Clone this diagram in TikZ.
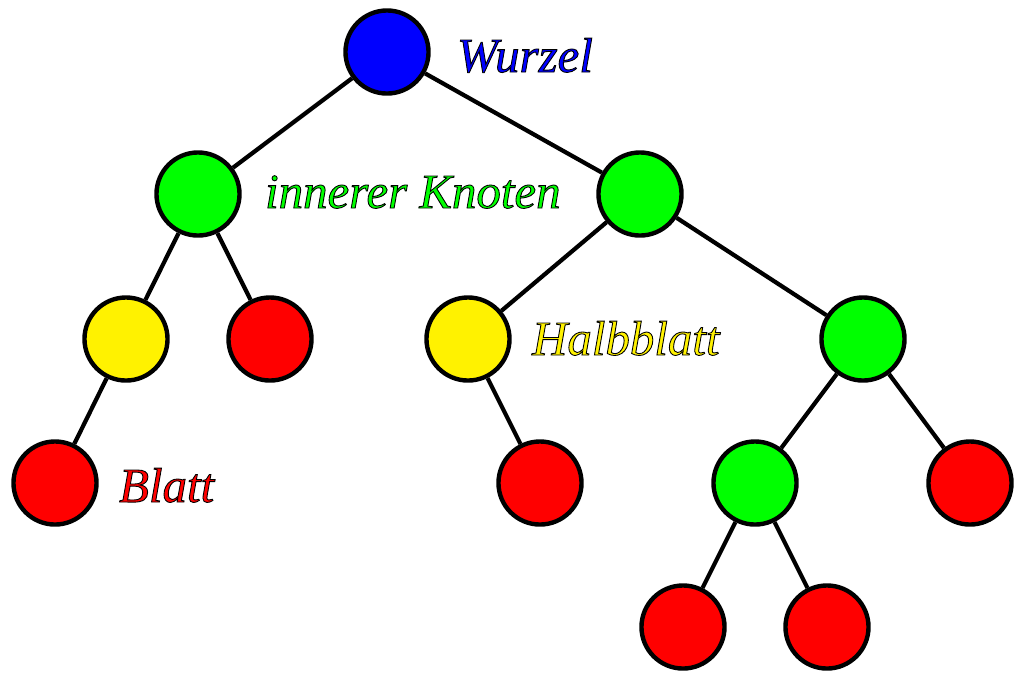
\documentclass[tikz,border=0pt]{standalone}
\usepackage{fontspec}
\setmainfont{Liberation Serif}
\usetikzlibrary{positioning}
% Schrift mit schwarzem Rand
\newcommand{\umriss}[1]{\special{pdf:literal direct 0 G 2 Tr 0.25 w}#1\special{pdf:literal direct 0 Tr}}
\tikzset{
  knoten/.style={circle, draw=black, line width=1.25pt, minimum size=0.83cm, inner sep=0pt},
  wurzel/.style={knoten, fill=blue},
  innen/.style={knoten, fill=green},
  halb/.style={knoten, fill=yellow},
  blatt/.style={knoten, fill=red},
  etikett/.style={anchor=base west, inner sep=0pt, font=\fontsize{13.9}{16}\selectfont\itshape}
}
\begin{document}
\begin{tikzpicture}[x=0.01cm, y=-0.01cm, line width=1.2pt]
    \useasboundingbox (0,0) rectangle (1024,678);
    %Knoten
    \node[wurzel] (w) at (387,52) {};
    \node[innen] (l) at (198,194) {};
    \node[innen] (r) at (640,194) {};
    \node[halb] (ll) at (126,339) {};
    \node[blatt] (lr) at (270,339) {};
    \node[halb] (rl) at (468,339) {};
    \node[innen] (rr) at (863,339) {};
    \node[blatt] (lll) at (55,483) {};
    \node[blatt] (rlr) at (540,483) {};
    \node[innen] (rrl) at (755,483) {};
    \node[blatt] (rrr) at (970,483) {};
    \node[blatt] (rrll) at (683,627) {};
    \node[blatt] (rrlr) at (827,627) {};
    %Kanten
    \draw (w) -- (l);
    \draw (w) -- (r);
    \draw (l) -- (ll);
    \draw (l) -- (lr);
    \draw (ll) -- (lll);
    \draw (r) -- (rl);
    \draw (r) -- (rr);
    \draw (rl) -- (rlr);
    \draw (rr) -- (rrl);
    \draw (rr) -- (rrr);
    \draw (rrl) -- (rrll);
    \draw (rrl) -- (rrlr);
    %Beschriftung
    \node[etikett, text=blue] (twurzel) at (455,72) {\umriss{Wurzel}};
    \node[etikett, text=green] (tinnen) at (263,208) {\umriss{innerer Knoten}};
    \node[etikett, text=yellow] (thalb) at (530,355) {\umriss{Halbblatt}};
    \node[etikett, text=red] (tblatt) at (117,502) {\umriss{Blatt}};
\end{tikzpicture}
\end{document}
